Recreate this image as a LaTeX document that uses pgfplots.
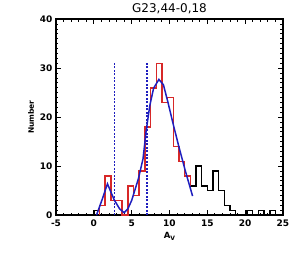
\documentclass[border=0pt]{standalone}
\usepackage{fontspec}
\setmainfont{DejaVu Sans}
\usepackage{pgfplots}
\pgfplotsset{compat=1.18}
\definecolor{idlred}{RGB}{215,40,40}
\definecolor{idlblue}{RGB}{30,30,190}
\begin{document}
\begin{tikzpicture}
\begin{axis}[
  scale only axis,
  width=227pt, height=196pt,
  at={(0,0)}, anchor=south west,
  xmin=-5, xmax=25, ymin=0, ymax=40,
  xtick={-5,0,5,10,15,20,25},
  ytick={0,10,20,30,40},
  minor x tick num=4,
  minor y tick num=9,
  tick align=inside,
  xtick pos=both, ytick pos=both,
  xticklabel pos=lower, yticklabel pos=left,
  major tick length=5pt, minor tick length=2.5pt,
  tick style={black, line width=0.9pt},
  axis line style={line width=1.4pt},
  /pgf/number format/assume math mode=true,
  ticklabel style={font=\bfseries\fontsize{9}{10}\selectfont},
  xticklabel style={yshift=-1pt},
  title={G23,44-0,18},
  title style={font=\fontsize{12}{14}\selectfont, yshift=-4pt},
  xlabel={\textbf{A}\raisebox{-2pt}{\fontsize{6}{7}\selectfont\textbf{V}}},
  xlabel style={font=\fontsize{8.5}{9}\selectfont, yshift=1pt},
  ylabel={Number},
  ylabel style={font=\bfseries\fontsize{7.5}{8}\selectfont, yshift=-1pt},
  clip=true,
]
% full histogram (black)
\addplot[black, line width=1.5pt, const plot mark left] coordinates {
(0,0) (0,1) (0.75,2) (1.5,8) (2.25,3) (3,3) (3.75,0) (4.5,6) (5.25,4) (6,9)
(6.75,18) (7.5,26) (8.25,31) (9,23) (9.75,24) (10.5,14) (11.25,11) (12,8)
(12.75,6) (13.5,10) (14.25,6) (15,5) (15.75,9) (16.5,5) (17.25,2) (18,1)
(18.75,0) (19.5,0) (20.25,1) (21,0) (21.75,1) (22.5,0) (23.25,1) (24,0) (24.75,0)
};
% selected range (red)
\addplot[idlred, line width=1.5pt, const plot mark left] coordinates {
(0.75,0) (0.75,2) (1.5,8) (2.25,3) (3,3) (3.75,0) (4.5,6) (5.25,4) (6,9)
(6.75,18) (7.5,26) (8.25,31) (9,23) (9.75,24) (10.5,14) (11.25,11) (12,8) (12.75,6)
};
% fit (blue)
\addplot[idlblue, line width=1.5pt] coordinates {
(0.35,0) (1.1,3.2) (1.8,6.4) (2.7,3.1) (3.4,1.3) (4.0,0.5) (4.5,1.3) (5.0,3.0)
(5.9,7.5) (6.5,11.5) (6.9,17) (7.4,22.4) (7.9,25.9) (8.6,27.7) (9.2,26.6)
(9.8,23) (10.5,18.5) (11.2,14.2) (12.1,9.0) (13.05,3.9)
};
% dotted vertical lines
\addplot[idlblue, line width=1.5pt, dash pattern=on 2pt off 1.5pt] coordinates {(2.75,0) (2.75,31)};
\addplot[idlblue, line width=1.5pt, dash pattern=on 2pt off 1.5pt] coordinates {(7.0,0) (7.0,31)};
\end{axis}
\path (-56pt,-38pt) rectangle (244pt,215pt);
\end{tikzpicture}
\end{document}
